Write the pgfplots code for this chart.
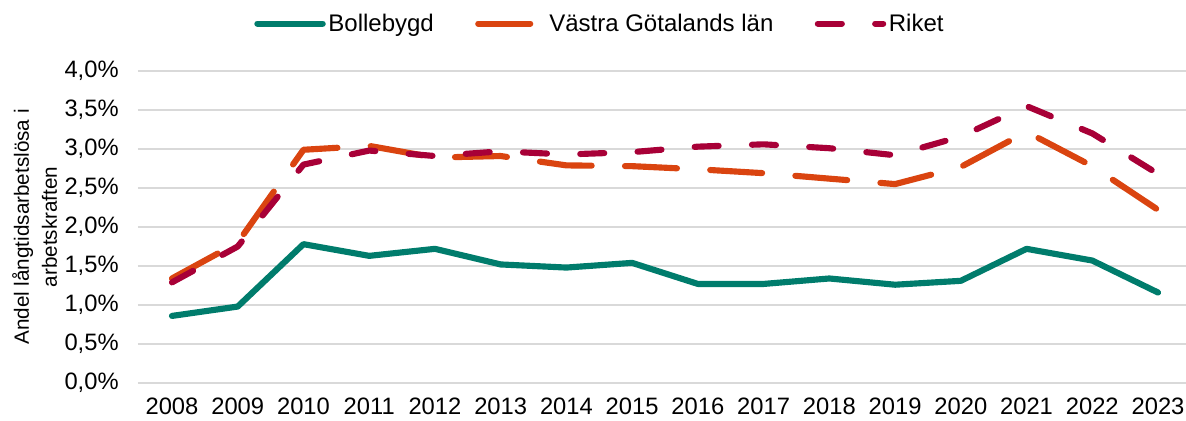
\documentclass[border=0pt]{standalone}
\usepackage{pgfplots}
\pgfplotsset{compat=1.18}
\usepackage{fontspec}
\setmainfont{Liberation Sans}
\definecolor{cTeal}{RGB}{0,124,108}
\definecolor{cOrange}{RGB}{218,68,16}
\definecolor{cRiket}{RGB}{168,0,55}
\definecolor{cGrid}{RGB}{217,217,217}
\begin{document}
\begin{tikzpicture}
\path[use as bounding box] (-103.5pt,-28.5pt) rectangle (786pt,287.25pt);
\begin{axis}[
  scale only axis,
  width=790.5pt, height=234pt,
  xmin=-0.517, xmax=15.517,
  ymin=0, ymax=4,
  axis line style={draw=none},
  major tick length=0pt,
  xtick={0,...,15},
  xticklabels={2008,2009,2010,2011,2012,2013,2014,2015,2016,2017,2018,2019,2020,2021,2022,2023},
  ytick={0,0.5,1,1.5,2,2.5,3,3.5,4},
  yticklabels={{0,0\%},{0,5\%},{1,0\%},{1,5\%},{2,0\%},{2,5\%},{3,0\%},{3,5\%},{4,0\%}},
  ymajorgrids,
  grid style={draw=cGrid, line width=1.3pt},
  tick label style={font=\fontsize{17.8}{20}\selectfont},
  xticklabel style={yshift=-8pt},
  yticklabel style={xshift=-11pt},
  ylabel={Andel långtidsarbetslösa i\\arbetskraften},
  ylabel style={font=\fontsize{15.5}{21}\selectfont, align=center, at={(-0.098,0.5)}, anchor=center},
  legend columns=3,
  legend style={draw=none, fill=none, at={(0.4386,1.152)}, anchor=center,
    font=\fontsize{18}{21}\selectfont,
    /tikz/every even column/.append style={column sep=29pt},
    cells={anchor=west}},
  legend image code/.code={\draw[#1] (0pt,0pt) -- (49pt,0pt);},
]
\addplot[cTeal, line width=4.6pt, line cap=round, line join=round] coordinates {
(0,0.86) (1,0.98) (2,1.78) (3,1.63) (4,1.72) (5,1.52) (6,1.48) (7,1.54)
(8,1.27) (9,1.27) (10,1.34) (11,1.26) (12,1.31) (13,1.72) (14,1.57) (15,1.16)};
\addlegendentry{Bollebygd}
\addplot[cOrange, line width=4.6pt, line cap=round, line join=round, dash pattern=on 39pt off 25pt] coordinates {
(0,1.34) (1,1.80) (2,2.99) (3,3.04) (4,2.89) (5,2.91) (6,2.79) (7,2.78)
(8,2.74) (9,2.69) (10,2.62) (11,2.55) (12,2.77) (13,3.22) (14,2.78) (15,2.22)};
\addlegendentry{Västra Götalands län}
\addplot[cRiket, line width=4.6pt, line cap=round, line join=round, dash pattern=on 18pt off 25pt] coordinates {
(0,1.29) (1,1.75) (2,2.80) (3,2.98) (4,2.91) (5,2.97) (6,2.93) (7,2.96)
(8,3.03) (9,3.06) (10,3.01) (11,2.92) (12,3.16) (13,3.55) (14,3.20) (15,2.68)};
\addlegendentry{Riket}
\end{axis}
\end{tikzpicture}
\end{document}
